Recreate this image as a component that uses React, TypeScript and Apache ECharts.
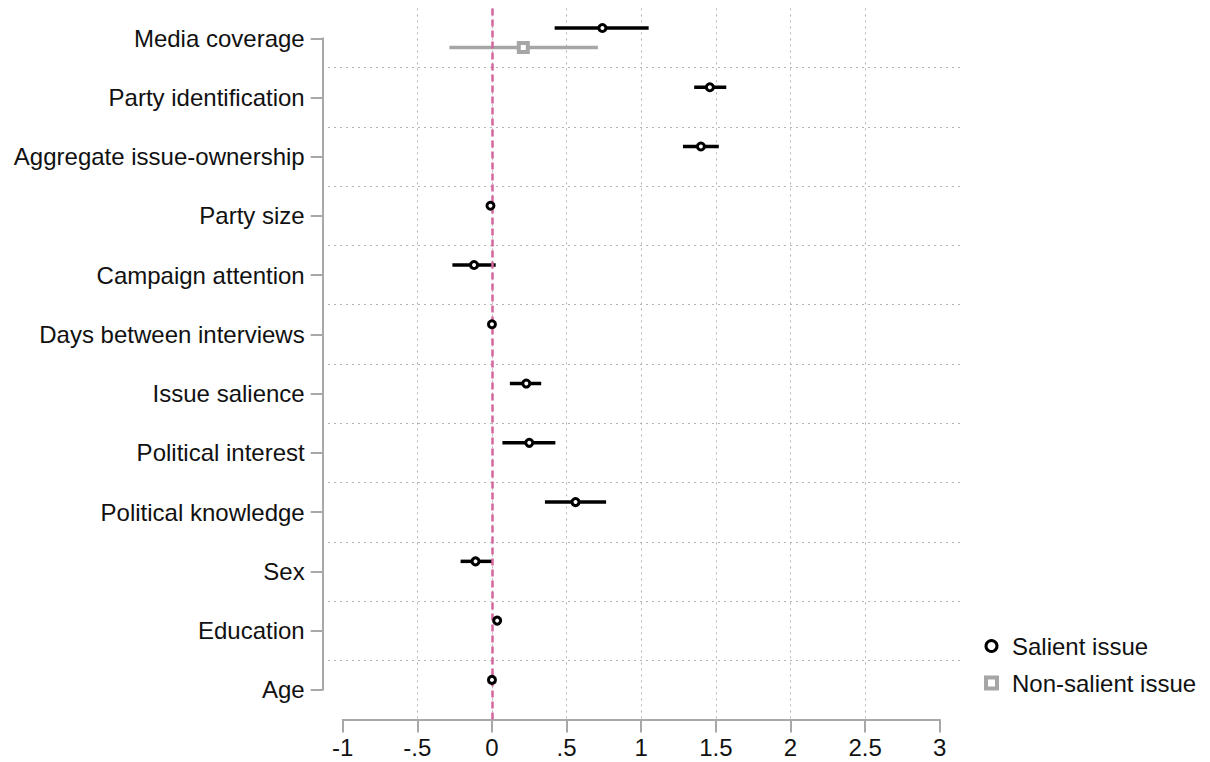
import React, { useEffect, useRef } from "react";
import * as echarts from "echarts";

const categories = [
  "Media coverage",
  "Party identification",
  "Aggregate issue-ownership",
  "Party size",
  "Campaign attention",
  "Days between interviews",
  "Issue salience",
  "Political interest",
  "Political knowledge",
  "Sex",
  "Education",
  "Age",
];

const salientEst = [0.74, 1.46, 1.40, -0.01, -0.12, 0.0, 0.23, 0.25, 0.56, -0.11, 0.035, 0.0];
const salientLo = [0.42, 1.355, 1.28, -0.02, -0.265, -0.01, 0.12, 0.07, 0.355, -0.21, 0.025, -0.01];
const salientHi = [1.05, 1.57, 1.52, 0.0, 0.025, 0.01, 0.33, 0.425, 0.765, 0.0, 0.045, 0.01];

const nonSalientCats = ["Media coverage"];
const nonSalientEst = [0.21];
const nonSalientLo = [-0.285];
const nonSalientHi = [0.71];

const xTicks = ["-1", "-.5", "0", ".5", "1", "1.5", "2", "2.5", "3"];

const SAL_OFF = -0.17;
const NON_OFF = 0.16;
const FONT = "'Liberation Sans', Arial, sans-serif";
const AXIS_GRAY = "#a8a8a8";
const GRID_GRAY = "#b4b4b4";

export default function App() {
  const ref = useRef<HTMLDivElement>(null);

  useEffect(() => {
    if (!ref.current) return;
    const chart = echarts.init(ref.current, null, { renderer: "svg" });

    const salPts = categories.map((c, i) => [salientEst[i], i + SAL_OFF]);
    const salBars = categories.map((c, i) => [salientLo[i], salientHi[i], i + SAL_OFF]);
    const nonPts = nonSalientCats.map((c, k) => [nonSalientEst[k], categories.indexOf(c) + NON_OFF]);
    const nonBars = nonSalientCats.map((c, k) => [
      nonSalientLo[k],
      nonSalientHi[k],
      categories.indexOf(c) + NON_OFF,
    ]);

    const barRender = (color: string) => (params: any, api: any) => {
      const p1 = api.coord([api.value(0), api.value(2)]);
      const p2 = api.coord([api.value(1), api.value(2)]);
      return {
        type: "line",
        shape: { x1: p1[0], y1: p1[1], x2: p2[0], y2: p2[1] },
        style: { stroke: color, lineWidth: 3.5 },
      };
    };

    const top = 8.4;
    const height = 711.2;

    const fmt = (v: number) => {
      const idx = Math.round((v + 1) * 2);
      return xTicks[idx] ?? String(v);
    };

    chart.setOption({
      animation: false,
      backgroundColor: "#fff",
      textStyle: { fontFamily: FONT },
      grid: [
        { left: 328, width: 632, top, height },
        { left: 342.7, width: 597, top, height },
        { left: 322.7, width: 1, top: 38.3, height: 651.4 },
      ],
      xAxis: [
        { gridIndex: 0, type: "value", min: 0, max: 1, show: false },
        {
          gridIndex: 1,
          type: "value",
          min: -1,
          max: 3,
          interval: 0.5,
          axisLine: { show: true, onZero: false, lineStyle: { color: AXIS_GRAY, width: 2 } },
          axisTick: { show: true, length: 13, lineStyle: { color: AXIS_GRAY, width: 2 } },
          axisLabel: {
            fontSize: 24,
            color: "#111",
            fontFamily: FONT,
            margin: 16,
            formatter: fmt,
          },
          splitLine: {
            show: true,
            showMinLine: false,
            showMaxLine: false,
            lineStyle: { color: GRID_GRAY, type: [2, 4], width: 1 },
          },
        },
        { gridIndex: 2, type: "value", show: false },
      ],
      yAxis: [
        {
          gridIndex: 0,
          type: "value",
          inverse: true,
          min: -0.5,
          max: 11.5,
          interval: 1,
          axisLine: { show: false },
          axisTick: { show: false },
          axisLabel: { show: false },
          splitLine: {
            show: true,
            showMinLine: false,
            showMaxLine: false,
            lineStyle: { color: GRID_GRAY, type: [2, 4], width: 1 },
          },
        },
        {
          gridIndex: 1,
          type: "value",
          inverse: true,
          min: -0.5,
          max: 11.5,
          show: false,
        },
        {
          gridIndex: 2,
          type: "category",
          data: categories,
          inverse: true,
          boundaryGap: false,
          axisLine: { show: true, lineStyle: { color: AXIS_GRAY, width: 2 } },
          axisTick: { show: true, interval: 0, length: 12, lineStyle: { color: AXIS_GRAY, width: 2 } },
          axisLabel: { interval: 0, fontSize: 24, color: "#111", fontFamily: FONT, margin: 18 },
          splitLine: { show: false },
        },
      ],
      legend: {
        orient: "vertical",
        left: 979,
        top: 629,
        itemWidth: 11,
        itemHeight: 11,
        itemGap: 13,
        textStyle: { fontSize: 24, color: "#111", fontFamily: FONT, lineHeight: 24, padding: [0, 0, 0, 10] },
        data: [
          {
            name: "Salient issue",
            icon: "circle",
            itemStyle: { color: "#fff", borderColor: "#000", borderWidth: 3 },
          },
          {
            name: "Non-salient issue",
            icon: "rect",
            itemStyle: { color: "#fff", borderColor: "#a6a6a6", borderWidth: 4 },
          },
        ],
      },
      series: [
        {
          name: "Salient issue",
          type: "custom",
          xAxisIndex: 1,
          yAxisIndex: 1,
          data: salBars,
          encode: { x: [0, 1], y: 2 },
          renderItem: barRender("#000"),
          z: 3,
          silent: true,
          markLine: {
            silent: true,
            symbol: ["none", "none"],
            label: { show: false },
            lineStyle: { color: "#d3679d", type: [7, 4], width: 2.5 },
            data: [{ xAxis: 0 }],
          },
        },
        {
          name: "Non-salient issue",
          type: "custom",
          xAxisIndex: 1,
          yAxisIndex: 1,
          data: nonBars,
          encode: { x: [0, 1], y: 2 },
          renderItem: barRender("#a6a6a6"),
          z: 3,
          silent: true,
        },
        {
          name: "Salient issue",
          type: "scatter",
          xAxisIndex: 1,
          yAxisIndex: 1,
          data: salPts,
          symbol: "circle",
          symbolSize: 7,
          itemStyle: { color: "#fff", borderColor: "#000", borderWidth: 3, opacity: 1 },
          z: 5,
        },
        {
          name: "Non-salient issue",
          type: "scatter",
          xAxisIndex: 1,
          yAxisIndex: 1,
          data: nonPts,
          symbol: "rect",
          symbolSize: 9,
          itemStyle: { color: "#fff", borderColor: "#a6a6a6", borderWidth: 4, opacity: 1 },
          z: 5,
        },
      ],
    });

    return () => chart.dispose();
  }, []);

  return (
    <div
      ref={ref}
      style={{ position: "fixed", left: 0, top: 0, width: 1210, height: 762 }}
    />
  );
}
